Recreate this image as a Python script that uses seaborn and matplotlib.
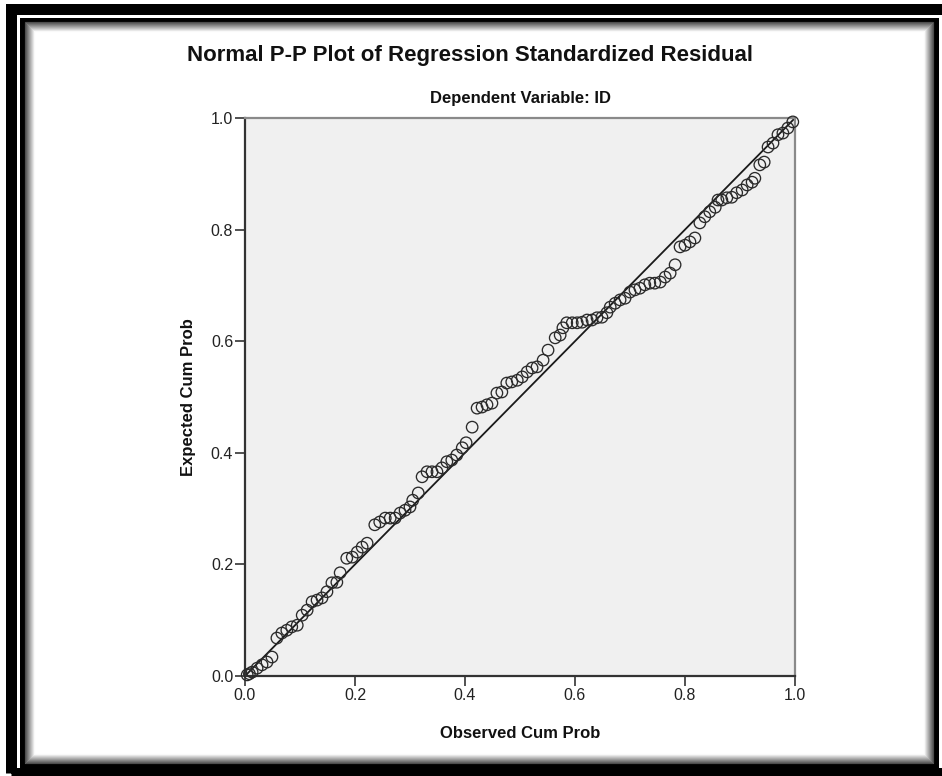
import matplotlib
matplotlib.use("Agg")
import matplotlib.pyplot as plt
from matplotlib.patches import Rectangle
import seaborn as sns
import pandas as pd

# ---- data ----
observed_cum_prob = [
    0.004, 0.008, 0.013, 0.022, 0.031, 0.040, 0.049, 0.058, 0.067, 0.076,
    0.085, 0.095, 0.104, 0.113, 0.122, 0.131, 0.140, 0.149, 0.158, 0.167,
    0.173, 0.185, 0.195, 0.204, 0.213, 0.222, 0.236, 0.245, 0.255, 0.264,
    0.273, 0.282, 0.291, 0.300, 0.305, 0.315, 0.322, 0.331, 0.340, 0.349,
    0.358, 0.367, 0.376, 0.385, 0.395, 0.402, 0.413, 0.422, 0.431, 0.440,
    0.449, 0.458, 0.467, 0.476, 0.485, 0.495, 0.504, 0.513, 0.522, 0.531,
    0.542, 0.551, 0.564, 0.573, 0.578, 0.585, 0.595, 0.604, 0.613, 0.622,
    0.631, 0.640, 0.649, 0.658, 0.664, 0.673, 0.682, 0.691, 0.700, 0.709,
    0.718, 0.727, 0.736, 0.745, 0.755, 0.764, 0.773, 0.782, 0.791, 0.800,
    0.809, 0.818, 0.827, 0.836, 0.845, 0.855, 0.860, 0.867, 0.876, 0.885,
    0.894, 0.904, 0.913, 0.922, 0.927, 0.936, 0.944, 0.951, 0.960, 0.969,
    0.978, 0.987, 0.996,
]
expected_cum_prob = [
    0.002, 0.004, 0.007, 0.014, 0.020, 0.025, 0.034, 0.068, 0.077, 0.082,
    0.088, 0.091, 0.109, 0.118, 0.133, 0.136, 0.140, 0.151, 0.167, 0.168,
    0.185, 0.211, 0.213, 0.222, 0.231, 0.238, 0.271, 0.276, 0.283, 0.283,
    0.283, 0.292, 0.297, 0.303, 0.315, 0.328, 0.357, 0.366, 0.366, 0.366,
    0.373, 0.384, 0.387, 0.396, 0.409, 0.418, 0.446, 0.480, 0.482, 0.486,
    0.489, 0.507, 0.509, 0.525, 0.527, 0.530, 0.536, 0.545, 0.552, 0.554,
    0.566, 0.584, 0.606, 0.611, 0.624, 0.633, 0.633, 0.633, 0.634, 0.638,
    0.638, 0.642, 0.643, 0.651, 0.661, 0.668, 0.674, 0.677, 0.688, 0.692,
    0.695, 0.701, 0.704, 0.704, 0.706, 0.715, 0.722, 0.737, 0.769, 0.772,
    0.778, 0.785, 0.812, 0.823, 0.832, 0.840, 0.853, 0.853, 0.857, 0.858,
    0.866, 0.871, 0.880, 0.885, 0.892, 0.916, 0.921, 0.948, 0.955, 0.970,
    0.973, 0.982, 0.993,
]
reference_line = [0.0, 1.0]
tick_values = [0.0, 0.2, 0.4, 0.6, 0.8, 1.0]
tick_labels = ["0.0", "0.2", "0.4", "0.6", "0.8", "1.0"]

title_text = "Normal P-P Plot of Regression Standardized Residual"
subtitle_text = "Dependent Variable: ID"
x_label = "Observed Cum Prob"
y_label = "Expected Cum Prob"

df = pd.DataFrame({"obs": observed_cum_prob, "exp": expected_cum_prob})
ref = pd.DataFrame({"x": reference_line, "y": reference_line})

# ---- figure ----
sns.set_style("white")
plt.rcParams["font.family"] = ["Liberation Sans", "DejaVu Sans"]

W, H = 942, 776
fig = plt.figure(figsize=(W / 100, H / 100), dpi=100)
fig.patch.set_facecolor("white")

def fx(px):
    return px / W

def fy(py):
    return 1 - py / H

PX = 0.72  # points per pixel at dpi 100

def frame_rect(x0, y0, x1, y1, color, lw_px):
    fig.add_artist(Rectangle((fx(x0), fy(y1)), fx(x1) - fx(x0), fy(y0) - fy(y1),
                             transform=fig.transFigure, fill=False,
                             edgecolor=color, linewidth=lw_px * PX, zorder=0))

# outer black frame (thick); right and bottom run off the image
frame_rect(10.5, 8.5, 948, 773, "black", 11)
# inner frame with soft shadow inward
frame_rect(22, 19.5, 936, 765.5, "black", 5)
for i in range(10):
    g = min(0.3 + 0.075 * i, 1.0)
    off = 25 + i
    frame_rect(off - 0.5, off - 3, 933 - i + 0.5, 762.5 - i, (g, g, g), 1.2)

ax_left, ax_right, ax_top, ax_bottom = 245, 795, 118, 676
ax = fig.add_axes([fx(ax_left), fy(ax_bottom), fx(ax_right) - fx(ax_left),
                   fy(ax_top) - fy(ax_bottom)])
ax.set_facecolor("#f0f0f0")

sns.lineplot(data=ref, x="x", y="y", ax=ax, color="#1a1a1a", linewidth=1.3,
             zorder=2)
sns.scatterplot(data=df, x="obs", y="exp", ax=ax, marker="o", s=68,
                facecolor="none", edgecolor="#2a2a2a", linewidth=0.95,
                zorder=3, clip_on=False)

ax.set_xlim(0, 1)
ax.set_ylim(0, 1)
ax.set_xticks(tick_values)
ax.set_xticklabels(tick_labels)
ax.set_yticks(tick_values)
ax.set_yticklabels(tick_labels)
ax.tick_params(axis="both", direction="out", length=7, width=1.2,
               color="#333333", labelsize=11.5, labelcolor="#222222", pad=1.5,
               bottom=True, left=True)

for side in ["left", "bottom"]:
    ax.spines[side].set_color("#333333")
    ax.spines[side].set_linewidth(1.6)
for side in ["top", "right"]:
    ax.spines[side].set_color("#8a8a8a")
    ax.spines[side].set_linewidth(1.6)

ax.set_xlabel(x_label, fontsize=12, fontweight="bold", color="#111111")
ax.set_ylabel(y_label, fontsize=12, fontweight="bold", color="#111111")
ax.xaxis.set_label_coords(0.5, (ax_bottom - 733) / (ax_bottom - ax_top))
ax.xaxis.label.set_va("center")
ax.yaxis.set_label_coords((188 - ax_left) / (ax_right - ax_left), 0.5)
ax.yaxis.label.set_va("center")

fig.text(fx(470), fy(56), title_text, ha="center", va="center",
         fontsize=16, fontweight="bold", color="#111111")
fig.text(fx(521), fy(98), subtitle_text, ha="center", va="center",
         fontsize=12, fontweight="bold", color="#111111")

fig.savefig("out.png", dpi=100)
